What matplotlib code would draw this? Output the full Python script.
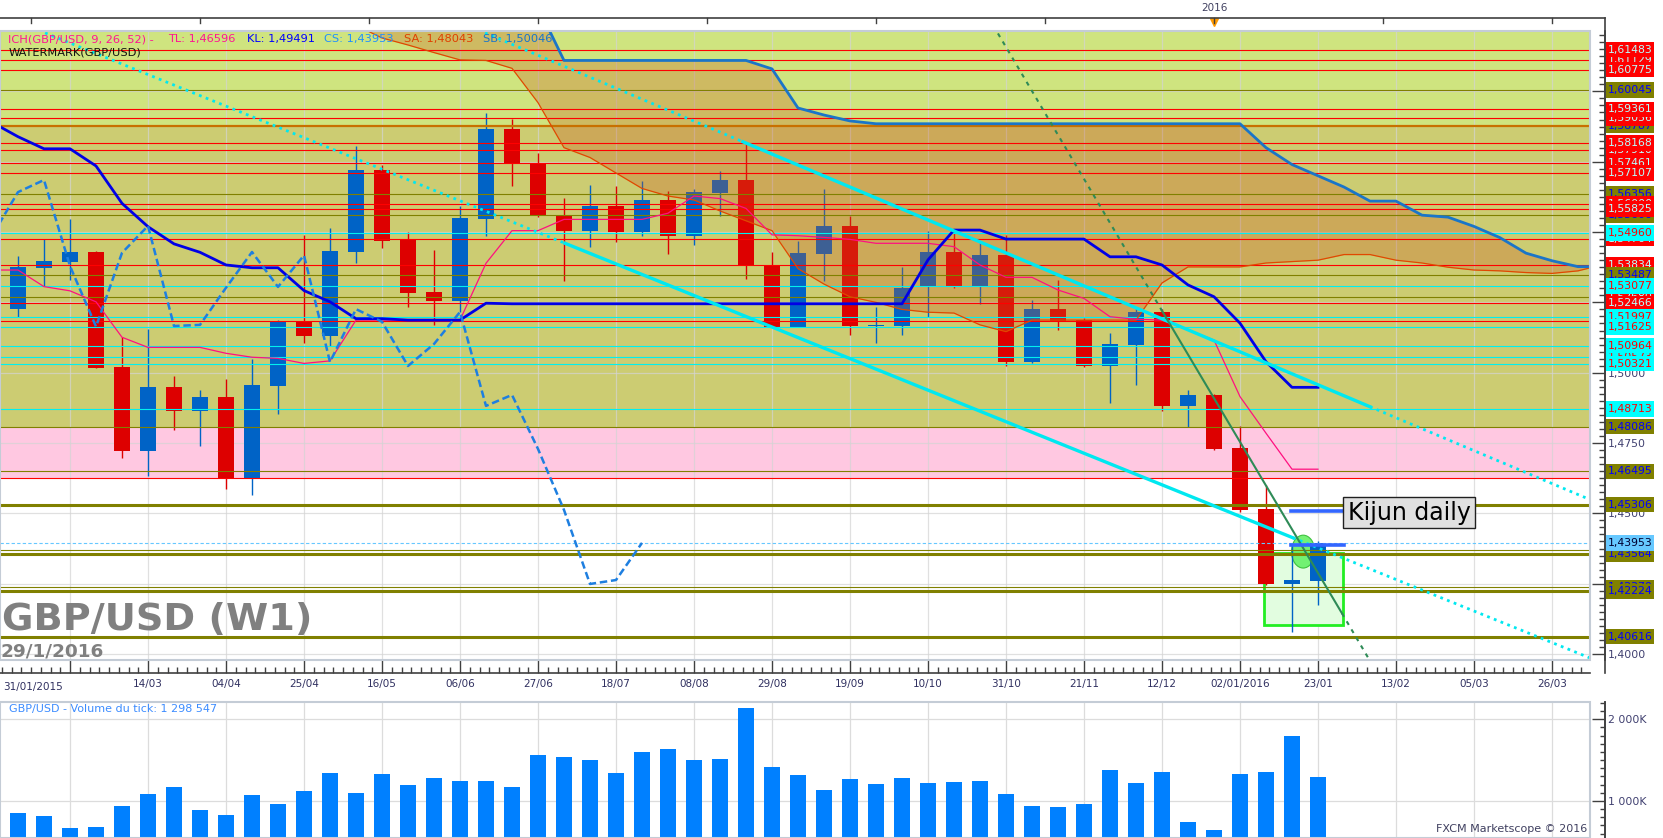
"""GBP/USD weekly chart with Ichimoku, levels and tick volume (Marketscope look)."""
import numpy as np
import matplotlib
matplotlib.use("Agg")
import matplotlib.pyplot as plt
import matplotlib.transforms as mtransforms
from matplotlib.patches import Rectangle, Ellipse
from matplotlib.lines import Line2D
from matplotlib.ticker import MultipleLocator, FixedLocator, FuncFormatter

# week number, 0 = week of 21/02/2015 (one candle per week)
weeks = list(range(-2, 49))

opens = [1.5226, 1.5373, 1.5394, 1.5429, 1.5020, 1.4723, 1.4949, 1.4865, 1.4914, 1.4626,
         1.4953, 1.5183, 1.5132, 1.5430, 1.5721, 1.5475, 1.5287, 1.5256, 1.5547, 1.5866,
         1.5742, 1.5557, 1.5505, 1.5593, 1.5501, 1.5614, 1.5487, 1.5640, 1.5685, 1.5383,
         1.5164, 1.5423, 1.5522, 1.5166, 1.5166, 1.5305, 1.5429, 1.5305, 1.5417, 1.5038,
         1.5226, 1.5187, 1.5024, 1.5098, 1.5216, 1.4882, 1.4921, 1.4732, 1.4515, 1.4249, 1.4259]
highs = [1.5416, 1.5475, 1.5546, 1.5432, 1.5128, 1.5156, 1.4988, 1.4938, 1.4978, 1.5050,
         1.5186, 1.5490, 1.5514, 1.5806, 1.5738, 1.5500, 1.5436, 1.5593, 1.5922, 1.5903,
         1.5781, 1.5621, 1.5667, 1.5664, 1.5681, 1.5646, 1.5653, 1.5717, 1.5815, 1.5429,
         1.5469, 1.5653, 1.5558, 1.5234, 1.5376, 1.5504, 1.5504, 1.5460, 1.5490, 1.5258,
         1.5330, 1.5193, 1.5140, 1.5230, 1.5225, 1.4938, 1.4925, 1.4811, 1.4601, 1.4394, 1.4403]
lows = [1.5198, 1.5308, 1.5330, 1.5015, 1.4698, 1.4634, 1.4797, 1.4740, 1.4588, 1.4565,
        1.4854, 1.5107, 1.5094, 1.5391, 1.5444, 1.5235, 1.5171, 1.5217, 1.5487, 1.5665,
        1.5555, 1.5327, 1.5448, 1.5466, 1.5487, 1.5423, 1.5455, 1.5558, 1.5334, 1.5162,
        1.5162, 1.5327, 1.5134, 1.5107, 1.5134, 1.5199, 1.5302, 1.5244, 1.5024, 1.5036,
        1.5152, 1.5022, 1.4893, 1.4956, 1.4864, 1.4807, 1.4725, 1.4505, 1.4245, 1.4079, 1.4174]
closes = [1.5377, 1.5397, 1.5429, 1.5018, 1.4723, 1.4949, 1.4865, 1.4914, 1.4625, 1.4956,
          1.5183, 1.5132, 1.5433, 1.5721, 1.5469, 1.5284, 1.5256, 1.5550, 1.5866, 1.5742,
          1.5560, 1.5505, 1.5593, 1.5501, 1.5614, 1.5487, 1.5642, 1.5685, 1.5379, 1.5164,
          1.5426, 1.5522, 1.5166, 1.5170, 1.5302, 1.5429, 1.5305, 1.5417, 1.5038, 1.5226,
          1.5181, 1.5024, 1.5102, 1.5216, 1.4882, 1.4921, 1.4729, 1.4512, 1.4249, 1.4263, 1.4395]
volumes_k = [853, 816, 669, 682, 939, 1086, 1171, 890, 829, 1073,
             963, 1122, 1343, 1098, 1331, 1196, 1282, 1245, 1245, 1171,
             1563, 1539, 1502, 1343, 1600, 1637, 1502, 1514, 2139, 1416,
             1318, 1135, 1269, 1208, 1282, 1220, 1233, 1245, 1086, 939,
             927, 963, 1380, 1220, 1355, 743, 645, 1331, 1355, 1796, 1299]

# tenkan / kijun start one week before the first visible candle (left edge)
line_weeks = list(range(-3, 49))
tenkan = [1.5365,
          1.5365, 1.5306, 1.5291, 1.5252, 1.5126, 1.5090, 1.5090, 1.5090, 1.5069, 1.5055,
          1.5051, 1.5033, 1.5042, 1.5187, 1.5187, 1.5187, 1.5187, 1.5187, 1.5389, 1.5505,
          1.5505, 1.5545, 1.5545, 1.5545, 1.5545, 1.5567, 1.5628, 1.5619, 1.5584, 1.5490,
          1.5487, 1.5481, 1.5474, 1.5460, 1.5460, 1.5460, 1.5448, 1.5383, 1.5339, 1.5339,
          1.5294, 1.5264, 1.5199, 1.5190, 1.5187, 1.5152, 1.5116, 1.4915, 1.4785, 1.4657, 1.4657]
kijun = [1.5890,
         1.5839, 1.5796, 1.5796, 1.5735, 1.5602, 1.5519, 1.5458, 1.5428, 1.5383, 1.5373,
         1.5373, 1.5292, 1.5252, 1.5192, 1.5192, 1.5187, 1.5187, 1.5187, 1.5247, 1.5245,
         1.5245, 1.5245, 1.5245, 1.5245, 1.5245, 1.5245, 1.5245, 1.5245, 1.5245, 1.5245,
         1.5245, 1.5245, 1.5245, 1.5245, 1.5245, 1.5401, 1.5507, 1.5507, 1.5475, 1.5475,
         1.5475, 1.5475, 1.5412, 1.5412, 1.5383, 1.5312, 1.5270, 1.5176, 1.5039, 1.4948, 1.4948]

# senkou spans, already shifted 26 weeks ahead
span_weeks = list(range(10, 60))
senkou_a = [1.6300, 1.6235, 1.6190, 1.6165, 1.6138, 1.6112, 1.6110, 1.6082, 1.5960, 1.5800,
            1.5765, 1.5710, 1.5655, 1.5628, 1.5614, 1.5575, 1.5540, 1.5505, 1.5370, 1.5315,
            1.5270, 1.5250, 1.5225, 1.5215, 1.5212, 1.5170, 1.5146, 1.5187, 1.5187, 1.5187,
            1.5187, 1.5187, 1.5319, 1.5376, 1.5376, 1.5376, 1.5390, 1.5395, 1.5400, 1.5420,
            1.5420, 1.5400, 1.5390, 1.5375, 1.5365, 1.5362, 1.5356, 1.5353, 1.5362, 1.5385]
senkou_b = [1.6450, 1.6450, 1.6450, 1.6450, 1.6450, 1.6450, 1.6450, 1.6450, 1.6300, 1.6110,
            1.6110, 1.6110, 1.6110, 1.6110, 1.6110, 1.6110, 1.6110, 1.6080, 1.5941, 1.5916,
            1.5895, 1.5885, 1.5885, 1.5885, 1.5885, 1.5885, 1.5885, 1.5885, 1.5885, 1.5885,
            1.5885, 1.5885, 1.5885, 1.5885, 1.5885, 1.5885, 1.5800, 1.5740, 1.5700, 1.5660,
            1.5610, 1.5610, 1.5560, 1.5553, 1.5520, 1.5480, 1.5425, 1.5398, 1.5377, 1.5377]

# horizontal levels
red_levels = [1.61483, 1.61129, 1.60775, 1.59361, 1.59056, 1.58168, 1.57910, 1.57461,
              1.57107, 1.56000, 1.55825, 1.54764, 1.53834, 1.52466, 1.51840, 1.46250]
cyan_levels = [1.54960, 1.53077, 1.51997, 1.51625, 1.50964, 1.50573, 1.50321, 1.48713]
olive_thin = [1.60045, 1.56356, 1.55600, 1.53487, 1.52680, 1.48086, 1.46495, 1.43690, 1.42370]
olive_thick = [1.45306, 1.43564, 1.42224, 1.40616]
band_edge = 1.58787
cs_level = 1.43953

# right-hand price boxes, in drawing order: (price, kind)
price_boxes = [(1.61129, "r"), (1.61483, "r"), (1.60775, "r"), (1.60045, "o"), (1.58787, "o"),
               (1.59056, "r"), (1.59361, "r"), (1.57910, "r"), (1.58168, "r"), (1.57461, "r"),
               (1.57107, "r"), (1.56356, "o"), (1.56000, "r"), (1.55600, "o"), (1.55825, "r"),
               (1.54764, "r"), (1.54960, "c"), (1.53834, "r"), (1.53487, "o"), (1.52680, "r"),
               (1.53077, "c"), (1.52466, "r"), (1.51840, "r"), (1.51997, "c"), (1.51625, "c"),
               (1.50573, "c"), (1.50964, "c"), (1.50321, "c"), (1.48713, "c"), (1.48086, "o"),
               (1.46495, "o"), (1.45306, "o"), (1.43690, "o"), (1.43564, "o"), (1.43953, "b"),
               (1.42370, "o"), (1.42224, "o"), (1.40616, "o")]

# drawn trend lines (week, price)
trend_up_w = [15.96, 25.88, 50.0, 58.46]
trend_up_p = [1.6208, 1.5821, 1.4879, 1.4549]
trend_low_w = [-0.96, 19.04, 47.04, 58.46]
trend_low_p = [1.6208, 1.5460, 1.4413, 1.3986]
trend_green_w = [35.69, 42.0, 48.92, 49.92]
trend_green_p = [1.6206, 1.5220, 1.4145, 1.3988]

kijun_daily = 1.4508
kijun_daily_2 = 1.4386

date_ticks = list(range(0, 58, 3))
date_labels = ["", "14/03", "04/04", "25/04", "16/05", "06/06", "27/06", "18/07", "08/08",
               "29/08", "19/09", "10/10", "31/10", "21/11", "12/12", "02/01/2016", "23/01",
               "13/02", "05/03", "26/03"]

W, H = 1663, 838
fig = plt.figure(figsize=(W / 100, H / 100), dpi=100)
fig.patch.set_facecolor("white")

ax = fig.add_axes([0, (H - 660) / H, 1590 / W, 629 / H])
axv = fig.add_axes([0, 0, 1590 / W, 136.3 / H])

XMIN, XMAX = -70 / 26, 1520 / 26
ax.set_xlim(XMIN, XMAX)
ax.set_ylim(1.39787, 1.62147)

# background bands
ax.axhspan(band_edge, 1.70, color="#cfe47f", lw=0, zorder=0)
ax.axhspan(1.48086, band_edge, color="#cccc72", lw=0, zorder=0)
ax.axhspan(1.46250, 1.48086, color="#ffc8e1", lw=0, zorder=0)

# grid
for w in date_ticks:
    ax.axvline(w, color="#d4d4d4", lw=0.9, alpha=0.7, zorder=0.5)
for p in np.arange(1.400, 1.6001, 0.025):
    ax.axhline(p, color="#d4d4d4", lw=0.9, alpha=0.7, zorder=0.5)

# candles
o = np.array(opens)
c = np.array(closes)
up = c >= o
cols = np.where(up, "#0063c6", "#dd0000")
ax.vlines(weeks, lows, highs, colors=cols, lw=1.0, zorder=1.9)
ax.bar(weeks, np.maximum(np.abs(c - o), 0.00035), bottom=np.minimum(o, c), width=0.65,
       color=cols, lw=0, zorder=2)

# drawn box + marker under candles
ax.add_patch(Rectangle((45.93, 1.4103), 3.02, 0.0255, facecolor="#e2fde0",
                       edgecolor="#22ee22", lw=2, zorder=1.5))
ax.add_patch(Ellipse((47.43, 1.4364), 0.9, 0.0117, facecolor="#66f066",
                     edgecolor="#33bb33", lw=0.8, alpha=0.9, zorder=1.6))

# cloud
ax.fill_between(span_weeks, senkou_a, senkou_b, color="#cc5b22", alpha=0.3, lw=0, zorder=2.5)

# horizontal levels
for p in red_levels:
    ax.axhline(p, color="#ff0000", lw=0.8, zorder=3)
for p in cyan_levels:
    ax.axhline(p, color="#00f0f0", lw=0.8, zorder=3)
for p in olive_thin:
    ax.axhline(p, color="#808000", lw=0.8, zorder=3)
for p in olive_thick:
    ax.axhline(p, color="#808000", lw=2.2, zorder=3)
ax.axhline(band_edge, color="#c87000", lw=1.6, zorder=3)
ax.axhline(cs_level, color="#66c8ff", lw=0.8, ls=(0, (3, 2)), zorder=3)

# ichimoku lines
ax.plot(span_weeks, senkou_a, color="#e04800", lw=0.9, zorder=4)
ax.plot(span_weeks, senkou_b, color="#1a75c8", lw=2.0, zorder=4)
ax.plot(line_weeks, tenkan, color="#ff1080", lw=0.9, zorder=4)
ax.plot(line_weeks, kijun, color="#0000e6", lw=2.0, zorder=4)
# chikou span: closes drawn 26 weeks back
chikou_w = np.array(weeks[25:]) - 26
ax.plot(chikou_w, closes[25:], color="#1e7fe0", lw=1.8, ls=(0, (3, 1.5)), zorder=4)

# trend lines
ax.plot(trend_up_w[1:3], trend_up_p[1:3], color="#00e8f0", lw=2.4, zorder=5)
ax.plot(trend_up_w[:2], trend_up_p[:2], color="#00e8f0", lw=2.0, ls=(0, (1, 1.6)), zorder=5)
ax.plot(trend_up_w[2:], trend_up_p[2:], color="#00e8f0", lw=2.0, ls=(0, (1, 1.6)), zorder=5)
ax.plot(trend_low_w[1:3], trend_low_p[1:3], color="#00e8f0", lw=2.4, zorder=5)
ax.plot(trend_low_w[:2], trend_low_p[:2], color="#00e8f0", lw=2.0, ls=(0, (1, 1.6)), zorder=5)
ax.plot(trend_low_w[2:], trend_low_p[2:], color="#00e8f0", lw=2.0, ls=(0, (1, 1.6)), zorder=5)
ax.plot(trend_green_w[1:3], trend_green_p[1:3], color="#2e8b57", lw=1.5, zorder=5)
ax.plot(trend_green_w[:2], trend_green_p[:2], color="#2e8b57", lw=1.5, ls=(0, (2, 2.5)), zorder=5)
ax.plot(trend_green_w[2:], trend_green_p[2:], color="#2e8b57", lw=1.5, ls=(0, (2, 2.5)), zorder=5)

# kijun daily marks + label
ax.plot([46.95, 48.95], [kijun_daily, kijun_daily], color="#3366ff", lw=2.6, zorder=5)
ax.plot([46.95, 49.0], [kijun_daily_2, kijun_daily_2], color="#3366ff", lw=2.6, zorder=5)
ax.add_patch(Rectangle((48.95, 1.44479), 5.1, 0.01102, facecolor="#e0e0e0",
                       edgecolor="#202020", lw=1.0, zorder=6))
ax.text(49.15, 1.4503, "Kijun daily", fontsize=17, color="black", va="center", ha="left",
        zorder=7)

# axes styling (main)
for s in ("left", "top"):
    ax.spines[s].set_visible(False)
ax.spines["right"].set_position(("outward", 10.8))
ax.spines["bottom"].set_position(("outward", 9.4))
for s in ("right", "bottom"):
    ax.spines[s].set_color("#404040")
    ax.spines[s].set_linewidth(1.2)
ax.yaxis.tick_right()
ax.yaxis.set_major_locator(MultipleLocator(0.025))
ax.yaxis.set_minor_locator(MultipleLocator(0.0025))
ax.yaxis.set_major_formatter(FuncFormatter(lambda v, pos: f"{v:.4f}".replace(".", ",")))
ax.tick_params(axis="y", which="major", direction="in", length=9.4, width=1, color="#404040",
               labelsize=7.8, labelcolor="#404070", pad=2)
ax.tick_params(axis="y", which="minor", direction="in", length=4.3, width=1, color="#404040")
ax.xaxis.set_major_locator(FixedLocator(date_ticks))
ax.set_xticklabels(date_labels)
ax.xaxis.set_minor_locator(MultipleLocator(3 / 8))
ax.tick_params(axis="x", which="major", direction="in", length=9.4, width=1, color="#404040",
               labelsize=7.5, labelcolor="#303060", pad=4, top=False)
ax.tick_params(axis="x", which="minor", direction="in", length=4.3, width=1, color="#404040")
ax.text(0.002, -0.0429, "31/01/2015", transform=ax.transAxes, fontsize=7.5, color="#303060",
        ha="left", va="center")
ax.add_patch(Rectangle((0, 0), 1, 1, transform=ax.transAxes, fill=False, edgecolor="#c4ccd6",
                       lw=1.5, clip_on=False, zorder=8))

# right price boxes
box_tf = mtransforms.blended_transform_factory(ax.transAxes, ax.transData)
box_styles = {"r": ("#ff0000", "#b8ffff"), "c": ("#00ffff", "#ff0000"),
              "o": ("#808000", "#0000ff"), "b": ("#66c8ff", "#000030")}
bx0 = 1605.5 / 1590
bw = (1654 - 1605.5) / 1590
bh = 15.5 / 2813
for i, (p, kind) in enumerate(price_boxes):
    bg, fg = box_styles[kind]
    ax.add_patch(Rectangle((bx0, p - bh / 2), bw, bh, transform=box_tf, facecolor=bg,
                           edgecolor="none", clip_on=False, zorder=20 + 2 * i))
    ax.text(bx0 + 2 / 1590, p, f"{p:.5f}".replace(".", ","), transform=box_tf, color=fg,
            fontsize=7.8, ha="left", va="center", clip_on=False, zorder=21 + 2 * i)

# indicator caption
cap_y = 1 - (39.3 - 31) / 629
caption = [("ICH(GBP/USD, 9, 26, 52) -", "#ff1493", 8.4), ("TL: 1,46596", "#ff1493", 168.4),
           ("KL: 1,49491", "#0000ff", 246.8), ("CS: 1,43953", "#1e90ff", 324.5),
           ("SA: 1,48043", "#e04000", 403.7), ("SB: 1,50046", "#1874cd", 483.0)]
for txt, col, px in caption:
    ax.text(px / 1590, cap_y, txt, transform=ax.transAxes, color=col, fontsize=8.2,
            ha="left", va="center", zorder=9)
ax.text(8.4 / 1590, 1 - (52.7 - 31) / 629, "WATERMARK(GBP/USD)", transform=ax.transAxes,
        color="#101010", fontsize=8.2, ha="left", va="center", zorder=9)

# watermark
ax.text(2 / 1590, (660 - 630) / 629, "GBP/USD (W1)", transform=ax.transAxes, color="#808080",
        fontsize=27.5, fontweight="bold", ha="left", va="baseline", zorder=9)
ax.text(1 / 1590, (660 - 656.7) / 629, "29/1/2016", transform=ax.transAxes, color="#808080",
        fontsize=13.3, fontweight="bold", ha="left", va="baseline", zorder=9)

# volume panel
axv.set_xlim(XMIN, XMAX)
axv.set_ylim(547, 2215)
for w in date_ticks:
    axv.axvline(w, color="#dcdcdc", lw=0.9, zorder=0)
for v in (1000, 2000):
    axv.axhline(v, color="#dcdcdc", lw=0.9, zorder=0)
axv.bar(weeks, volumes_k, width=0.65, color="#0080ff", lw=0, zorder=2)
for s in ("left", "top", "bottom"):
    axv.spines[s].set_visible(False)
axv.spines["right"].set_position(("outward", 10.8))
axv.spines["right"].set_color("#404040")
axv.spines["right"].set_linewidth(1.2)
axv.yaxis.tick_right()
axv.yaxis.set_major_locator(FixedLocator([1000, 2000]))
axv.yaxis.set_minor_locator(MultipleLocator(100))
axv.yaxis.set_major_formatter(FuncFormatter(lambda v, pos: f"{int(v) // 1000} {int(v) % 1000:03d}K"))
axv.tick_params(axis="y", which="major", direction="in", length=9.4, width=1, color="#404040",
                labelsize=7.8, labelcolor="#404070", pad=2)
axv.tick_params(axis="y", which="minor", direction="in", length=3.6, width=1, color="#404040")
axv.set_xticks([])
axv.add_patch(Rectangle((0, 0), 1, 1, transform=axv.transAxes, fill=False, edgecolor="#c4ccd6",
                        lw=1.5, clip_on=False, zorder=8))
axv.text(9 / 1590, 1 - (709 - 701.7) / 136.3, "GBP/USD - Volume du tick: 1 298 547",
         transform=axv.transAxes, color="#3c8cff", fontsize=8, ha="left", va="center")
axv.text(1587 / 1590, (838 - 829) / 136.3, "FXCM Marketscope \u00a9 2016", transform=axv.transAxes,
         color="#404060", fontsize=8, ha="right", va="center")


# outer frame lines in pixel space
def fig_line(x0, y0, x1, y1, **kw):
    fig.add_artist(Line2D([x0 / W, x1 / W], [1 - y0 / H, 1 - y1 / H],
                          transform=fig.transFigure, **kw))


fig_line(0, 18, 1605, 18, color="#404040", lw=1.2)
fig_line(1605, 18, 1605, 673, color="#404040", lw=1.2)
fig_line(1605, 702, 1605, 838, color="#404040", lw=1.2)
for w in np.arange(-1.5, 58, 6.5):
    xp = 70 + 26 * w
    fig_line(xp, 18, xp, 23, color="#404040", lw=1.0)

# 2016 year marker on top axis
top_tf = mtransforms.blended_transform_factory(ax.transData, fig.transFigure)
ax.text(44, 1 - 8 / H, "2016", transform=top_tf, fontsize=7.5, color="#404060",
        ha="center", va="center", clip_on=False)
ax.plot([44], [1 - 22 / H], marker="v", color="#ff9900", markersize=6, transform=top_tf,
        clip_on=False)

fig.savefig("out.png", dpi=100)
